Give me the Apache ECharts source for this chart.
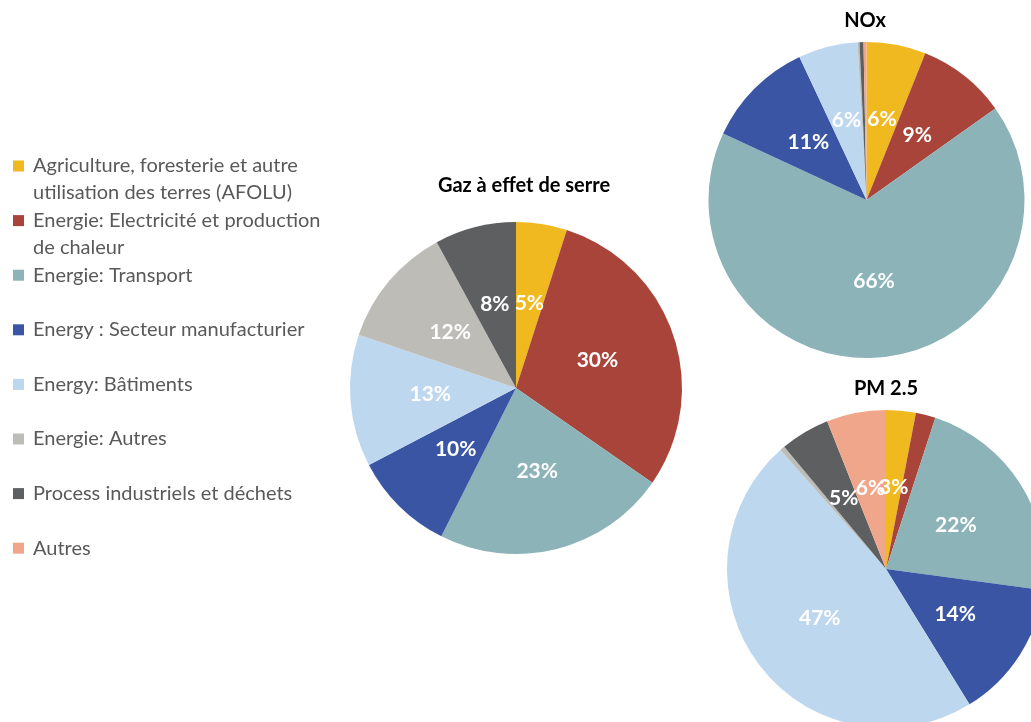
<!DOCTYPE html>
<html>
<head>
<meta charset="utf-8">
<script src="https://cdn.jsdelivr.net/npm/echarts@6/dist/echarts.min.js"></script>
<style>
  html, body { margin: 0; padding: 0; background: #ffffff; }
  #chart { width: 1031px; height: 722px; }
</style>
</head>
<body>
<div id="chart"></div>
<script>
// Emission sectors (legend order), with the line break used in the legend
const sectors = [
  'Agriculture, foresterie et autre\nutilisation des terres (AFOLU)',
  'Energie: Electricité et production\nde chaleur',
  'Energie: Transport',
  'Energy : Secteur manufacturier',
  'Energy: Bâtiments',
  'Energie: Autres',
  'Process industriels et déchets',
  'Autres'
];
const sectorColors = ['#F0B920', '#A9443B', '#8BB3B8', '#3A55A4', '#BDD7EE', '#BEBCB7', '#5E5F61', '#F0A68A'];

// Shares (%) by sector; null = sector not present in that pie
const ghgShares = [5, 30, 23, 10, 13, 12, 8, null];
const noxShares = [6, 9, 66, 11, 6, 0.2, 0.4, 0.3];
const pmShares  = [3, 2, 22, 14, 47, 0.5, 5, 6];

const pieTitles = ['Gaz à effet de serre', 'NOx', 'PM 2.5'];

const FONT = 'Lato, "Open Sans", sans-serif';

function pieData(shares) {
  return sectors
    .map((name, i) => ({ name, value: shares[i], itemStyle: { color: sectorColors[i] } }))
    .filter(d => d.value != null);
}

function pieSeries(shares, center, radius) {
  return {
    type: 'pie',
    center: center,
    radius: radius,
    startAngle: 90,
    clockwise: true,
    avoidLabelOverlap: false,
    silent: true,
    itemStyle: { borderWidth: 0 },
    label: {
      show: true,
      position: 'inside',
      color: '#ffffff',
      fontFamily: FONT,
      fontWeight: 'bold',
      fontSize: 21,
      // small slices are left unlabelled
      formatter: p => (p.value >= 3 ? Math.round(p.value) + '%' : '')
    },
    labelLayout: { hideOverlap: false },
    labelLine: { show: false },
    emphasis: { disabled: true },
    data: pieData(shares)
  };
}

const chart = echarts.init(document.getElementById('chart'), null, { renderer: 'canvas' });

const titleStyle = { fontFamily: FONT, fontWeight: 'bold', fontSize: 20, color: '#000000' };

chart.setOption({
  animation: false,
  backgroundColor: '#ffffff',
  title: [
    { text: pieTitles[0], left: 524, top: 176, textAlign: 'center', textStyle: titleStyle, padding: 0 },
    { text: pieTitles[1], left: 865, top: 11, textAlign: 'center', textStyle: titleStyle, padding: 0 },
    { text: pieTitles[2], left: 886, top: 379, textAlign: 'center', textStyle: titleStyle, padding: 0 }
  ],
  legend: {
    orient: 'vertical',
    left: 13,
    top: 125.5,
    padding: 0,
    itemGap: -26.4,
    itemWidth: 11,
    itemHeight: 11,
    icon: 'rect',
    selectedMode: false,
    data: sectors,
    // every entry spans three text rows so the marker sits on the first written line
    formatter: name => '\n' + name + (name.indexOf('\n') >= 0 ? '' : '\n'),
    textStyle: {
      fontFamily: FONT,
      fontSize: 20,
      lineHeight: 27,
      color: '#595959',
      padding: [0, 0, 0, 4]
    }
  },
  series: [
    pieSeries(ghgShares, [516, 388], 166),
    pieSeries(noxShares, [866.5, 200], 158),
    pieSeries(pmShares, [886, 569], 159)
  ]
});
</script>
</body>
</html>
